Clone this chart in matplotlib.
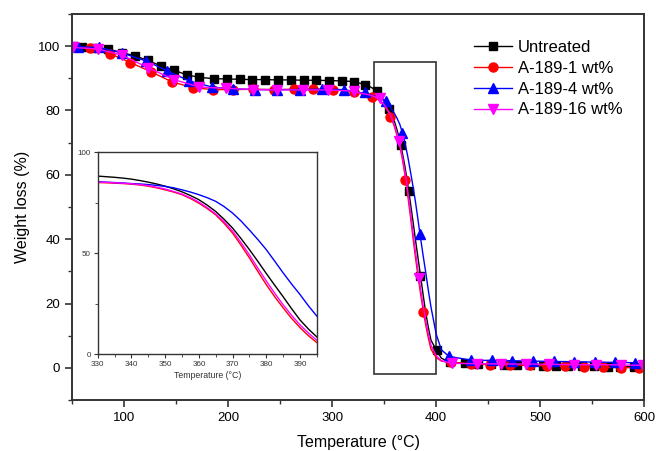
import numpy as np
import matplotlib
matplotlib.use("Agg")
import matplotlib.pyplot as plt
from matplotlib.patches import Rectangle
from matplotlib.ticker import MultipleLocator

plt.rcParams['font.family'] = ['Liberation Sans', 'DejaVu Sans']

# marker points (temperature in °C, weight in %)
t_untreated = [51, 59, 72, 84.7, 97.6, 110, 122.6, 135, 148, 160, 172.4, 186, 198.7, 211, 223, 235.6,
               248, 260.7, 272.5, 284.8, 296.6, 309, 320.7, 332, 343.3, 354.5, 365.8, 373.7, 384.3,
               400.4, 413, 428, 440, 453, 465, 478, 490, 503, 515, 527, 540, 552, 565, 577, 590]
w_untreated = [100.0, 99.7, 99.5, 99.1, 98.0, 97.0, 95.6, 93.9, 92.5, 91.1, 90.3, 89.9, 89.8, 89.7, 89.6, 89.6,
               89.5, 89.5, 89.4, 89.4, 89.3, 89.2, 89.0, 88.0, 86.1, 80.4, 69.4, 55.0, 28.5,
               5.4, 1.8, 1.4, 1.2, 1.1, 1.0, 0.9, 0.8, 0.7, 0.6, 0.6, 0.5, 0.5, 0.4, 0.4, 0.3]

t_a1 = [52, 67, 86, 106, 126, 146, 166, 185, 205, 224, 244, 263, 282, 301, 321, 338, 356, 370.5, 387.6,
        414, 433, 452, 471, 490, 507, 524, 542, 560, 578, 595]
w_a1 = [99.8, 99.3, 97.7, 94.9, 92.0, 88.9, 87.1, 86.5, 86.5, 86.6, 86.5, 86.6, 86.6, 86.5, 85.8, 84.3, 78.0, 58.5, 17.5,
        1.8, 1.2, 1.0, 0.9, 0.8, 0.6, 0.5, 0.3, 0.2, 0.1, 0.0]

t_a4 = [55.8, 76, 97.6, 121, 141.5, 162.7, 184.3, 205.1, 226, 246.9, 268.7, 290.3, 311, 331.3, 351.3, 367.3, 384.3,
        412.2, 433.1, 453.4, 473.3, 493.3, 512.9, 532.4, 552.6, 571.9, 591.2]
w_a4 = [99.8, 99.6, 97.9, 95.4, 92.3, 89.2, 87.3, 86.7, 86.5, 86.5, 86.5, 86.6, 86.5, 85.6, 82.9, 73.0, 41.5,
        3.6, 2.4, 2.3, 2.2, 2.1, 2.0, 1.9, 1.8, 1.7, 1.6]

t_a16 = [51, 75, 98, 123, 148, 172, 198, 224, 247, 272, 296, 321, 346, 364, 383.3,
         415.4, 439.6, 462.7, 486.1, 508.6, 532.6, 553.6, 577.6, 598.5]
w_a16 = [99.6, 99.1, 97.2, 93.3, 89.6, 87.3, 86.9, 86.5, 86.4, 86.4, 86.4, 86.0, 83.8, 70.5, 28.0,
         1.4, 1.3, 1.2, 1.2, 1.1, 1.0, 1.0, 0.9, 0.8]

# extra line points on the knee just after the drop
t_knee = [400, 405]
w_knee_untreated = [5.6, 3.0]
w_knee_a1 = [3.2, 2.1]
w_knee_a4 = [10.5, 5.6]
w_knee_a16 = [3.8, 2.2]

# inset curves, 330-395 °C
t_inset = [330, 332.5, 335, 337.5, 340, 342.5, 345, 347.5, 350, 352.5, 355, 357.5, 360, 362.5,
           365, 367.5, 370, 372.5, 375, 377.5, 380, 382.5, 385, 387.5, 390, 392.5, 395]
w_inset_untreated = [88.2, 87.9, 87.6, 87.2, 86.7, 86.0, 85.2, 84.3, 83.2, 81.9, 80.4, 78.6, 76.5, 73.8,
                     70.7, 66.8, 62.5, 57.3, 51.8, 46.0, 40.0, 34.2, 28.5, 22.6, 17.0, 12.5, 8.6]
w_inset_a1 = [85.0, 84.9, 84.7, 84.5, 84.2, 83.8, 83.2, 82.4, 81.4, 80.3, 79.0, 77.1, 74.8, 72.1,
              69.0, 64.8, 60.0, 54.0, 47.7, 41.0, 34.5, 28.5, 23.0, 17.8, 13.2, 9.2, 5.8]
w_inset_a4 = [85.4, 85.2, 85.0, 84.8, 84.5, 84.3, 84.0, 83.6, 83.1, 82.4, 81.4, 80.3, 79.0, 77.5,
              75.7, 73.1, 69.9, 66.0, 61.5, 56.8, 51.8, 46.1, 40.3, 34.8, 29.6, 24.0, 18.9]
w_inset_a16 = [85.2, 85.1, 84.9, 84.7, 84.4, 84.0, 83.5, 82.7, 81.8, 80.6, 79.3, 77.5, 75.3, 72.6,
               69.5, 65.6, 61.0, 55.3, 49.2, 42.6, 36.3, 30.2, 24.5, 19.3, 14.6, 10.5, 7.0]

labels = ['Untreated', 'A-189-1 wt%', 'A-189-4 wt%', 'A-189-16 wt%']
colors = ['black', '#ff0000', '#0000ff', '#ff00ff']
markers = ['s', 'o', '^', 'v']
msizes = [5.5, 6.5, 6.5, 7]

series = [(t_untreated, w_untreated, w_inset_untreated, w_knee_untreated),
          (t_a1, w_a1, w_inset_a1, w_knee_a1),
          (t_a4, w_a4, w_inset_a4, w_knee_a4),
          (t_a16, w_a16, w_inset_a16, w_knee_a16)]


def full_curve(t_mark, w_mark, w_in, w_kn):
    # line = marker points outside the inset window + the smooth inset points + knee
    t_mark = np.array(t_mark, dtype=float)
    w_mark = np.array(w_mark, dtype=float)
    keep = ((t_mark < 330) | (t_mark > 395)) & ((t_mark < 399) | (t_mark > 406))
    t = np.concatenate([[50.0], t_mark[keep], t_inset, t_knee])
    w = np.concatenate([[w_mark[0]], w_mark[keep], w_in, w_kn])
    order = np.argsort(t)
    return t[order], w[order]


fig = plt.figure(figsize=(6.56, 4.51), dpi=100)
ax = fig.add_axes([0.110, 0.113, 0.872, 0.856])

spine_col = '#333333'
for (t_m, w_m, w_in, w_kn), lab, c, m, ms in zip(series, labels, colors, markers, msizes):
    tl, wl = full_curve(t_m, w_m, w_in, w_kn)
    ax.plot(tl, wl, color=c, lw=1.0)
    ax.plot(t_m, w_m, linestyle='none', marker=m, color=c, markersize=ms)
    ax.plot([], [], color=c, lw=1.0, marker=m, markersize=ms, label=lab)

ax.add_patch(Rectangle((340, -2), 60, 97, fill=False, edgecolor=spine_col, lw=1.2))

ax.set_xlim(50, 600)
ax.set_ylim(-10, 110)
ax.xaxis.set_major_locator(MultipleLocator(100))
ax.xaxis.set_minor_locator(MultipleLocator(50))
ax.yaxis.set_major_locator(MultipleLocator(20))
ax.yaxis.set_minor_locator(MultipleLocator(10))
ax.set_yticks([0, 20, 40, 60, 80, 100])
ax.tick_params(which='both', direction='out', top=False, right=False, labelsize=9.5, color=spine_col)
ax.tick_params(which='major', length=5, width=1.2)
ax.tick_params(which='minor', length=3, width=1.0)
for s in ax.spines.values():
    s.set_color(spine_col)
    s.set_linewidth(1.4)
ax.set_xlabel('Temperature (°C)', fontsize=11.5, labelpad=8)
ax.set_ylabel('Weight loss (%)', fontsize=11.5, labelpad=6)

ax.legend(loc='upper left', bbox_to_anchor=(0.69, 0.95), frameon=False, fontsize=12,
          handlelength=2.3, handletextpad=0.35, labelspacing=0.35, borderaxespad=0)

# inset
axi = fig.add_axes([0.149, 0.2144, 0.334, 0.448])
for (t_m, w_m, w_in, w_kn), c in zip(series, colors):
    axi.plot(t_inset, w_in, color=c, lw=1.0)
axi.set_xlim(330, 395)
axi.set_ylim(0, 100)
axi.set_xticks([330, 340, 350, 360, 370, 380, 390])
axi.xaxis.set_minor_locator(MultipleLocator(5))
axi.set_yticks([0, 50, 100])
axi.yaxis.set_minor_locator(MultipleLocator(25))
axi.tick_params(which='both', direction='out', top=False, right=False, labelsize=5.8,
                color=spine_col, labelcolor='#333333', pad=2)
axi.tick_params(which='major', length=3, width=0.8)
axi.tick_params(which='minor', length=2, width=0.6)
for s in axi.spines.values():
    s.set_color(spine_col)
    s.set_linewidth(1.0)
axi.set_xlabel('Temperature (°C)', fontsize=6.3, color='#333333', labelpad=2)

fig.savefig('out.png', dpi=100)
